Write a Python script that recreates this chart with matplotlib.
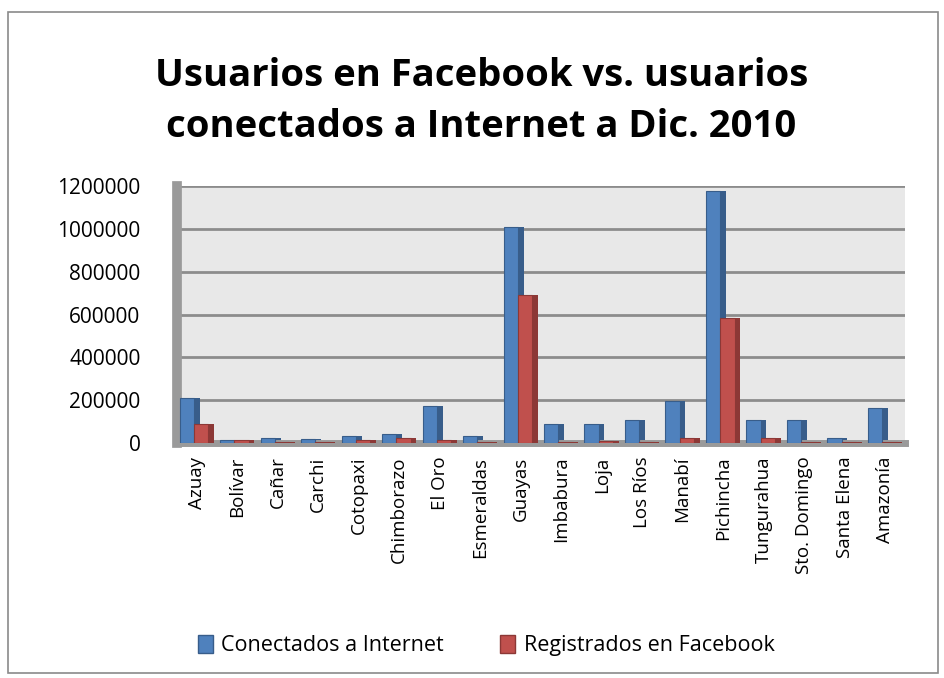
import numpy as np
import matplotlib.pyplot as plt
from matplotlib.patches import Rectangle

provincias = ['Azuay', 'Bolívar', 'Cañar', 'Carchi', 'Cotopaxi', 'Chimborazo',
              'El Oro', 'Esmeraldas', 'Guayas', 'Imbabura', 'Loja', 'Los Ríos',
              'Manabí', 'Pichincha', 'Tungurahua', 'Sto. Domingo', 'Santa Elena',
              'Amazonía']
conectados = [210000, 15000, 24000, 19000, 33000, 43000, 171000, 33000, 1010000,
              90000, 86000, 105000, 195000, 1180000, 105000, 105000, 24000, 162000]
facebook = [90000, 12000, 5000, 5000, 14000, 24000, 14000, 3000, 690000,
            3000, 10000, 2000, 24000, 585000, 24000, 2000, 3000, 5000]
yticks = [0, 200000, 400000, 600000, 800000, 1000000, 1200000]

BLUE, BLUE_DARK = '#4F81BD', '#385D8A'
RED, RED_DARK = '#C0504D', '#8C3836'
FONT = 'Open Sans'

fig = plt.figure(figsize=(9.44, 6.78), dpi=100)
fig.patches.append(Rectangle((0.009, 0.008), 0.985, 0.975, transform=fig.transFigure,
                             fill=False, edgecolor='#8a8a8a', lw=1.2))

fig.text(0.51, 0.85, 'Usuarios en Facebook vs. usuarios\nconectados a Internet a Dic. 2010',
         ha='center', va='center', fontsize=27.5, fontweight='bold', family=FONT,
         linespacing=1.45)

ax = fig.add_axes([0.187, 0.347, 0.772, 0.378])
ax.set_facecolor('#E8E8E8')

x = np.arange(len(provincias))
w, d = 0.354, 0.14
off = -0.07
# side faces first, then front faces on top
ax.bar(x + off, conectados, width=d, align='edge', color=BLUE_DARK, zorder=2)
ax.bar(x + off - w, conectados, width=w, align='edge', color=BLUE,
       edgecolor=BLUE_DARK, lw=0.8, zorder=3)
ax.bar(x + off + w, facebook, width=d, align='edge', color=RED_DARK, zorder=3)
ax.bar(x + off, facebook, width=w, align='edge', color=RED,
       edgecolor=RED_DARK, lw=0.8, zorder=4)

ax.set_xlim(-0.5, len(provincias) - 0.5)
ax.set_ylim(0, 1200000)
ax.set_yticks(yticks)
ax.set_yticklabels([str(v) for v in yticks], fontsize=15, family=FONT)
ax.set_xticks(x)
ax.set_xticklabels(provincias, rotation=90, fontsize=13.5, family=FONT)
ax.tick_params(length=0, pad=10)
ax.tick_params(axis='y', pad=26)
ax.yaxis.grid(True, color='#8c8c8c', lw=2)
ax.set_axisbelow(True)

for s in ['top', 'right']:
    ax.spines[s].set_visible(False)
ax.spines['left'].set_color('#9a9a9a')
ax.spines['left'].set_linewidth(7)
ax.spines['bottom'].set_color('#9a9a9a')
ax.spines['bottom'].set_linewidth(5)

handles = [Rectangle((0, 0), 1, 1, facecolor=BLUE, edgecolor=BLUE_DARK),
           Rectangle((0, 0), 1, 1, facecolor=RED, edgecolor=RED_DARK)]
fig.legend(handles, ['Conectados a Internet', 'Registrados en Facebook'],
           loc='center', bbox_to_anchor=(0.515, 0.048), ncol=2, frameon=False,
           prop={'family': FONT, 'size': 15.5}, handlelength=0.7, handleheight=0.9,
           columnspacing=2.6, handletextpad=0.4)

fig.savefig('out.png', dpi=100)
